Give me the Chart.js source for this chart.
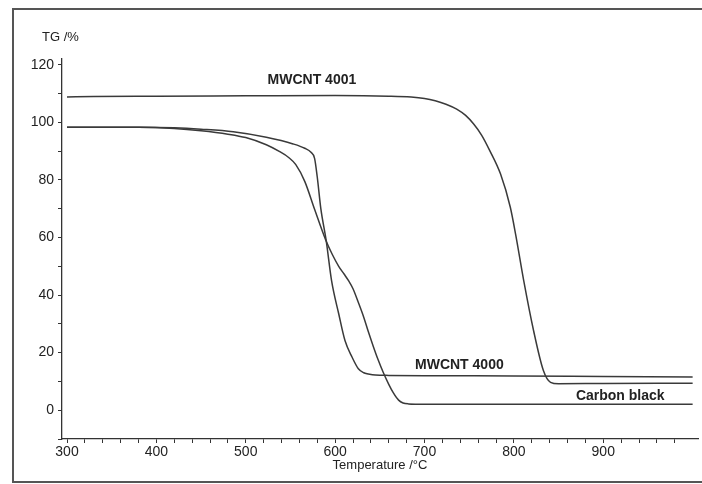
<!DOCTYPE html>
<html>
<head>
<meta charset="utf-8">
<title>TG curves</title>
<script src="https://cdn.jsdelivr.net/npm/chart.js@4.4.1/dist/chart.umd.min.js"></script>
<style>
    html, body { margin: 0; padding: 0; background: #fff; overflow: hidden; }
    #wrap { width: 702px; height: 484px; position: relative; }
</style>
</head>
<body>
<div id="wrap"><canvas id="tgChart"></canvas></div>
<script>
// Values (temperature in °C, mass in %)
const mwcnt4001Temp = [300, 330, 400, 500, 600, 660, 685, 700, 712, 724, 736, 746, 755, 764, 773, 785, 796, 802, 811, 822, 833, 841, 850, 900, 1000];
const mwcnt4001Tg   = [108.8, 109.0, 109.1, 109.2, 109.3, 109.1, 108.8, 108.3, 107.5, 106.3, 104.6, 102.4, 99.4, 95.5, 90.2, 82.1, 70.5, 61.0, 45.0, 27.7, 13.8, 9.7, 9.2, 9.3, 9.4];

const mwcnt4000Temp = [300, 380, 420, 450, 486, 523, 553, 566, 573, 577, 580, 584, 590, 596, 604, 611, 619, 626, 632, 637, 645, 660, 700, 800, 900, 1000];
const mwcnt4000Tg   = [98.3, 98.3, 98.1, 97.6, 96.7, 94.8, 92.5, 91.0, 89.6, 87.5, 81.0, 70.0, 58.9, 45.0, 33.5, 24.2, 18.4, 14.4, 13.0, 12.6, 12.2, 12.1, 12.0, 11.9, 11.7, 11.5];

const carbonTemp = [300, 380, 420, 450, 480, 500, 523, 538, 548, 556, 566, 577, 589, 597, 604, 610, 615, 620, 626, 632, 637, 643, 648, 654, 660, 665, 671, 676, 682, 700, 800, 900, 1000];
const carbonTg   = [98.3, 98.3, 97.9, 97.1, 95.9, 94.7, 92.2, 89.8, 87.8, 85.3, 79.5, 69.8, 59.5, 54.0, 50.0, 47.3, 45.0, 42.2, 37.4, 32.3, 27.4, 21.9, 17.6, 13.0, 9.0, 6.1, 3.5, 2.5, 2.2, 2.1, 2.1, 2.1, 2.1];

const xTicks = [300, 320, 340, 360, 380, 400, 420, 440, 460, 480, 500, 520, 540, 560, 580, 600, 620, 640, 660, 680,
                700, 720, 740, 760, 780, 800, 820, 840, 860, 880, 900, 920, 940, 960, 980];
const yTicks = [-10, 0, 10, 20, 30, 40, 50, 60, 70, 80, 90, 100, 110, 120];

// curve names and where they are written (data units)
const curveNames = ['MWCNT 4001', 'MWCNT 4000', 'Carbon black'];
const nameTemp   = [574, 739, 919];
const nameTg     = [114.5, 15.7, 4.8];

const FONT = "'Liberation Sans', Arial, sans-serif";
const INK = '#333';

function toPoints(xs, ys) {
    return xs.map((x, i) => ({ x: x, y: ys[i] }));
}

function curve(label, xs, ys) {
    return {
        label: label,
        data: toPoints(xs, ys),
        borderColor: '#3a3a3a',
        borderWidth: 1.5,
        pointRadius: 0,
        fill: false,
        cubicInterpolationMode: 'monotone'
    };
}

// frame, y title and curve names
const decorations = {
    id: 'decorations',
    beforeDraw(chart) {
        const ctx = chart.ctx;
        ctx.save();
        ctx.fillStyle = '#fff';
        ctx.fillRect(0, 0, chart.width, chart.height);
        ctx.strokeStyle = '#555';
        ctx.lineWidth = 2;
        ctx.strokeRect(13, 9, 700, 473);
        ctx.restore();
    },
    afterDraw(chart) {
        const ctx = chart.ctx;
        const xs = chart.scales.x, ys = chart.scales.y;
        ctx.save();
        ctx.fillStyle = '#222';
        ctx.textBaseline = 'middle';
        ctx.textAlign = 'left';
        ctx.font = '13px ' + FONT;
        ctx.fillText('TG /%', 42, 37);
        ctx.font = 'bold 14px ' + FONT;
        ctx.textAlign = 'center';
        curveNames.forEach((name, i) => {
            ctx.fillText(name, xs.getPixelForValue(nameTemp[i]), ys.getPixelForValue(nameTg[i]));
        });
        ctx.restore();
    }
};

document.addEventListener('DOMContentLoaded', () => {
    new Chart(document.getElementById('tgChart'), {
        type: 'line',
        data: {
            datasets: [
                curve(curveNames[0], mwcnt4001Temp, mwcnt4001Tg),
                curve(curveNames[1], mwcnt4000Temp, mwcnt4000Tg),
                curve(curveNames[2], carbonTemp, carbonTg)
            ]
        },
        options: {
            responsive: true,
            maintainAspectRatio: false,
            animation: false,
            layout: { padding: { left: 12, top: 59, right: 4, bottom: 0 } },
            plugins: {
                legend: { display: false },
                tooltip: { enabled: false }
            },
            scales: {
                x: {
                    type: 'linear',
                    min: 294.4,
                    max: 1006,
                    afterBuildTicks: axis => { axis.ticks = xTicks.map(v => ({ value: v })); },
                    afterFit: axis => { axis.height = 45; },
                    grid: { drawOnChartArea: false, drawTicks: true, tickLength: 4, color: INK },
                    border: { display: true, color: INK, width: 1.3 },
                    ticks: {
                        autoSkip: false,
                        maxRotation: 0,
                        padding: 1,
                        color: '#222',
                        font: { family: FONT, size: 14 },
                        callback: v => (v % 100 === 0 ? String(v) : '')
                    },
                    title: {
                        display: true,
                        text: 'Temperature /°C',
                        color: '#222',
                        font: { family: FONT, size: 13 },
                        padding: { top: 0, bottom: 11 }
                    }
                },
                y: {
                    type: 'linear',
                    min: -10,
                    max: 122,
                    afterBuildTicks: axis => { axis.ticks = yTicks.map(v => ({ value: v })); },
                    afterFit: axis => { axis.width = 50; },
                    grid: { drawOnChartArea: false, drawTicks: true, tickLength: 4, color: INK },
                    border: { display: true, color: INK, width: 1.3 },
                    ticks: {
                        autoSkip: false,
                        padding: 4,
                        color: '#222',
                        font: { family: FONT, size: 14 },
                        callback: v => (v >= 0 && v % 20 === 0 ? String(v) : '')
                    }
                }
            }
        },
        plugins: [decorations]
    });
});
</script>
</body>
</html>
